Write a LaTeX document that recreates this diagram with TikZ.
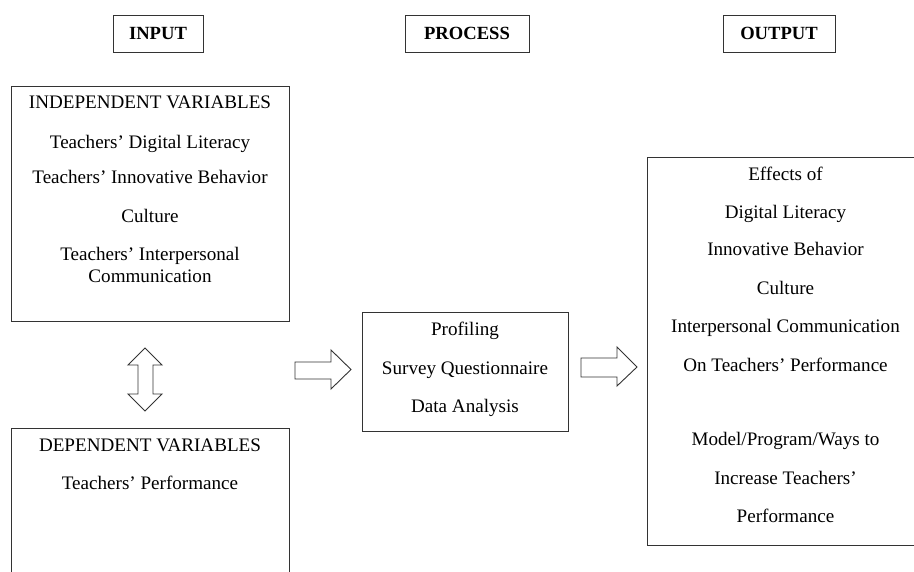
\documentclass[tikz,border=0pt]{standalone}
\usepackage{fontspec}
\setmainfont{Liberation Serif}
\begin{document}
\begin{tikzpicture}[x=1pt,y=-1pt,
  frame/.style={draw=black!80, line width=0.9pt, inner sep=0pt},
  lbl/.style={font=\fontsize{19.1}{22}\selectfont, inner sep=0pt, anchor=base},
  wrapped/.style={font=\fontsize{19.1}{22}\selectfont, inner sep=0pt, anchor=north, align=center},
  heading/.style={frame, font=\fontsize{18.6}{22}\selectfont\bfseries},
  blockarrow/.style={draw=black!80, line width=0.9pt, fill=white, line join=miter}]
\useasboundingbox (0,0) rectangle (914,572);
\clip (0,0) rectangle (914,572);

% column headings
\node[heading, minimum width=90pt, minimum height=37pt] (hin) at (158,33.5) {INPUT};
\node[heading, minimum width=124pt, minimum height=37pt] (hproc) at (467,33.5) {PROCESS};
\node[heading, minimum width=112pt, minimum height=37pt] (hout) at (779,33.5) {OUTPUT};

% input column
\node[frame, minimum width=278pt, minimum height=235pt] (indep) at (150,203.5) {};
\node[lbl] (iv) at (150,109) {INDEPENDENT VARIABLES};
\node[lbl] (iv1) at (150,149) {Teachers’ Digital Literacy};
\node[lbl] (iv2) at (150,184) {Teachers’ Innovative Behavior};
\node[lbl] (iv3) at (150,223) {Culture};
\node[wrapped] (iv4) at (150,247) {Teachers’ Interpersonal\\Communication};

\node[frame, minimum width=278pt, minimum height=172pt] (dep) at (150,514) {};
\node[lbl] (dv) at (150,451) {DEPENDENT VARIABLES};
\node[lbl] (dv1) at (150,489) {Teachers’ Performance};

% process column
\node[frame, minimum width=206pt, minimum height=119pt] (proc) at (465,371.5) {};
\node[lbl] (p1) at (465,336) {Profiling};
\node[lbl] (p2) at (465,374) {Survey Questionnaire};
\node[lbl] (p3) at (465,412) {Data Analysis};

% output column
\node[frame, minimum width=277pt, minimum height=388pt] (out) at (785.5,351) {};
\node[lbl] (o1) at (785.5,181) {Effects of};
\node[lbl] (o2) at (785.5,219) {Digital Literacy};
\node[lbl] (o3) at (785.5,256) {Innovative Behavior};
\node[lbl] (o4) at (785.5,295) {Culture};
\node[lbl] (o5) at (785.5,333) {Interpersonal Communication};
\node[lbl] (o6) at (785.5,371) {On Teachers’ Performance};
\node[lbl] (o7) at (785.5,446) {Model/Program/Ways to};
\node[lbl] (o8) at (785.5,484) {Increase Teachers’};
\node[lbl] (o9) at (785.5,522) {Performance};

% block arrows
\draw[blockarrow] (138,365) -- (128,365) -- (145,348) -- (162,365) -- (153,365)
  -- (153,394) -- (162,394) -- (145,411) -- (128,394) -- (138,394) -- cycle;
\draw[blockarrow] (295,362) -- (331,362) -- (331,350) -- (351,369.5) -- (331,389)
  -- (331,379) -- (295,379) -- cycle;
\draw[blockarrow] (581,358) -- (617,358) -- (617,347) -- (637,367) -- (617,386)
  -- (617,377) -- (581,377) -- cycle;
\end{tikzpicture}
\end{document}
